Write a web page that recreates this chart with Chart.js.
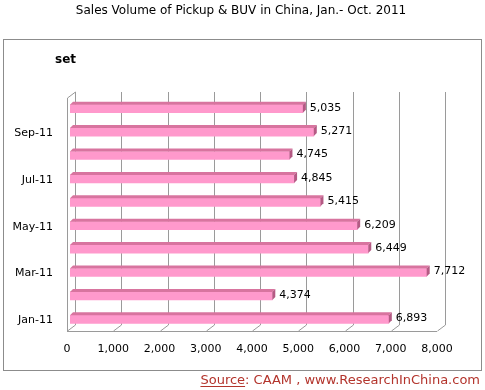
<!DOCTYPE html>
<html>
<head>
<meta charset="utf-8">
<script src="https://cdn.jsdelivr.net/npm/chart.js@4.4.0/dist/chart.umd.min.js"></script>
<style>
  body { margin: 0; background: #fff; }
  canvas { display: block; }
</style>
</head>
<body>
<canvas id="chart" width="485" height="390"></canvas>
<script>
// --- Data ---
const months = ['Jan-11', 'Feb-11', 'Mar-11', 'Apr-11', 'May-11', 'Jun-11', 'Jul-11', 'Aug-11', 'Sep-11', 'Oct-11'];
const sales = [6893, 4374, 7712, 6449, 6209, 5415, 4845, 4745, 5271, 5035];
const xTicks = [0, 1000, 2000, 3000, 4000, 5000, 6000, 7000, 8000];

const FONT = '"DejaVu Sans", Verdana, sans-serif';
const fmt = v => v.toLocaleString('en-US');

// --- 3D look: back wall, floor, bar top/end faces ---
const wallPlugin = {
  id: 'wall',
  beforeDatasetsDraw(chart) {
    const ctx = chart.ctx;
    const xs = chart.scales.x;
    const top = chart.chartArea.top, bottom = chart.chartArea.bottom;
    ctx.save();
    ctx.strokeStyle = '#9a9a9a';
    ctx.lineWidth = 1;
    ctx.beginPath();
    xTicks.forEach(t => {
      const p = Math.round(xs.getPixelForValue(t));
      ctx.moveTo(p + 5.5, top - 5);
      ctx.lineTo(p + 5.5, bottom - 6);
      ctx.lineTo(p - 2.5, bottom);
    });
    // floor front edge
    const p0 = Math.round(xs.getPixelForValue(0));
    const p8 = Math.round(xs.getPixelForValue(8000));
    ctx.moveTo(p0 - 3, bottom + 0.5);
    ctx.lineTo(p8 - 3, bottom + 0.5);
    // left wall front edge
    ctx.moveTo(p0 - 2.5, bottom);
    ctx.lineTo(p0 - 2.5, top + 1);
    ctx.lineTo(p0 + 5.5, top - 5);
    ctx.stroke();
    ctx.restore();
  },
  afterDatasetsDraw(chart) {
    const ctx = chart.ctx;
    const d = 3;
    ctx.save();
    chart.getDatasetMeta(0).data.forEach((bar, i) => {
      const h = bar.height;
      const t = bar.y - h / 2, b = bar.y + h / 2;
      const x0 = bar.base, x1 = bar.x;
      ctx.fillStyle = '#d8749f';
      ctx.beginPath();
      ctx.moveTo(x0, t); ctx.lineTo(x1, t);
      ctx.lineTo(x1 + d, t - d); ctx.lineTo(x0 + d, t - d);
      ctx.closePath(); ctx.fill();
      ctx.fillStyle = '#b45a84';
      ctx.beginPath();
      ctx.moveTo(x1, t); ctx.lineTo(x1 + d, t - d);
      ctx.lineTo(x1 + d, b - d); ctx.lineTo(x1, b);
      ctx.closePath(); ctx.fill();

      ctx.fillStyle = '#000';
      ctx.font = '11px ' + FONT;
      ctx.textAlign = 'left';
      ctx.textBaseline = 'middle';
      ctx.fillText(fmt(sales[i]), x1 + 7, bar.y - 1);
    });
    ctx.restore();
  }
};

// --- Title, unit, frame, source ---
const framePlugin = {
  id: 'frame',
  beforeDraw(chart) {
    const ctx = chart.ctx;
    ctx.save();
    ctx.fillStyle = '#fff';
    ctx.fillRect(0, 0, chart.width, chart.height);
    ctx.strokeStyle = '#8c8c8c';
    ctx.lineWidth = 1;
    ctx.strokeRect(3.5, 39.5, 478, 331);
    ctx.restore();
  },
  afterDraw(chart) {
    const ctx = chart.ctx;
    ctx.save();
    ctx.fillStyle = '#000';
    ctx.textBaseline = 'middle';
    ctx.textAlign = 'center';
    ctx.font = '12px ' + FONT;
    ctx.fillText('Sales Volume of Pickup & BUV in China, Jan.- Oct. 2011', 241, 11);
    ctx.textAlign = 'left';
    ctx.font = 'bold 12px ' + FONT;
    ctx.fillText('set', 55, 60);

    // source line
    ctx.fillStyle = '#b3342c';
    ctx.font = '13px ' + FONT;
    ctx.textBaseline = 'alphabetic';
    ctx.textAlign = 'right';
    const src = 'Source: CAAM , www.ResearchInChina.com';
    ctx.fillText(src, 480, 384);
    const w = ctx.measureText(src).width;
    const sw = ctx.measureText('Source').width;
    ctx.fillRect(480 - w, 386, sw, 1);
    ctx.restore();
  }
};

new Chart(document.getElementById('chart'), {
  type: 'bar',
  data: {
    labels: months,
    datasets: [{
      data: sales,
      backgroundColor: '#ff99cc',
      borderWidth: 0,
      barThickness: 8
    }]
  },
  options: {
    indexAxis: 'y',
    responsive: false,
    animation: false,
    devicePixelRatio: 1,
    layout: { padding: { top: 97, right: 45, left: 0, bottom: 0 } },
    plugins: {
      legend: { display: false },
      tooltip: { enabled: false }
    },
    scales: {
      x: {
        min: 0,
        max: 8000,
        grid: { display: false, drawTicks: false },
        border: { display: false },
        ticks: {
          stepSize: 1000,
          padding: 12,
          labelOffset: -3,
          color: '#000',
          font: { family: FONT, size: 11 },
          callback: v => fmt(v)
        },
        afterFit: s => { s.height = 59; s.paddingLeft = 0; s.paddingRight = 0; }
      },
      y: {
        reverse: true,
        grid: { display: false, drawTicks: false },
        border: { display: false },
        ticks: {
          autoSkip: false,
          padding: 17,
          labelOffset: 1,
          color: '#000',
          font: { family: FONT, size: 11 },
          callback: (v, i) => (i % 2 === 0 ? months[i] : '')
        },
        afterFit: s => { s.width = 70; s.paddingTop = 0; s.paddingBottom = 0; }
      }
    }
  },
  plugins: [framePlugin, wallPlugin]
});
</script>
</body>
</html>
